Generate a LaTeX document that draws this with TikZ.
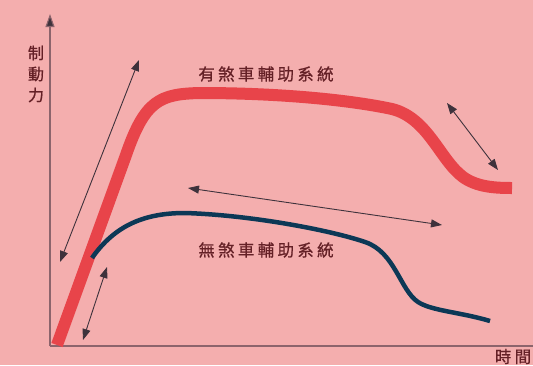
\documentclass[tikz,border=0pt]{standalone}
\usepackage{fontspec}
\newfontfamily\cjk[FakeBold=0.8]{Noto Sans CJK TC}
\usetikzlibrary{arrows.meta}
\definecolor{bgpink}{RGB}{244,174,174}
\definecolor{redcurve}{RGB}{232,68,74}
\definecolor{bluecurve}{RGB}{12,56,86}
\definecolor{axisgray}{RGB}{140,100,108}
\definecolor{txt}{RGB}{100,32,38}
\definecolor{arr}{RGB}{62,50,60}
\tikzset{
  lbl/.style={text=txt,font=\cjk\fontsize{16.5}{16.5}\selectfont\addfontfeature{LetterSpace=20},inner sep=0pt},
  dbl/.style={draw=arr,line width=0.9pt,{Triangle[length=11pt,width=8pt]}-{Triangle[length=11pt,width=8pt]}},
  axisline/.style={draw=axisgray,line width=1.1pt},
}
\begin{document}
\begin{tikzpicture}[x=1pt,y=-1pt]
\fill[bgpink] (0,0) rectangle (533,365);
\useasboundingbox (0,0) rectangle (533,365);
% axes
\coordinate (O) at (50,346);
\coordinate (ytop) at (50,14);
\coordinate (xend) at (533,346);
\draw[axisline,-{Triangle[length=13pt,width=9pt,fill=arr]}] (O) -- (ytop);
\draw[axisline] (O) -- (xend);
% curves
\draw[redcurve,line width=12pt] (57,345) -- (126,155) .. controls (145,100) and (160,94) .. (200,93)
  .. controls (280,93) and (350,100) .. (392,109) .. controls (428,118) and (440,160) .. (463,177)
  .. controls (477,187) and (495,188) .. (512,188);
\draw[bluecurve,line width=4.5pt] (92,258) .. controls (115,225) and (145,213) .. (185,213)
  .. controls (250,215) and (330,230) .. (365,242) .. controls (395,252) and (400,290) .. (418,302)
  .. controls (432,311) and (460,312) .. (490,321);
% double arrows
\coordinate (a1s) at (60,262); \coordinate (a1e) at (139,60);
\coordinate (a2s) at (83,340); \coordinate (a2e) at (107,267);
\coordinate (a3s) at (188,188); \coordinate (a3e) at (442,225);
\coordinate (a4s) at (447,103); \coordinate (a4e) at (498,170);
\draw[dbl] (a1s) -- (a1e);
\draw[dbl] (a2s) -- (a2e);
\draw[dbl] (a3s) -- (a3e);
\draw[dbl] (a4s) -- (a4e);
% labels
\node[lbl] (with) at (266,74) {有煞車輔助系統};
\node[lbl] (without) at (266,250) {無煞車輔助系統};
\node[lbl,align=center,font=\cjk\fontsize{16}{21}\selectfont] (force) at (36,74) {制\\動\\力};
\node[lbl] (time) at (513,356.5) {時間};
\end{tikzpicture}
\end{document}
